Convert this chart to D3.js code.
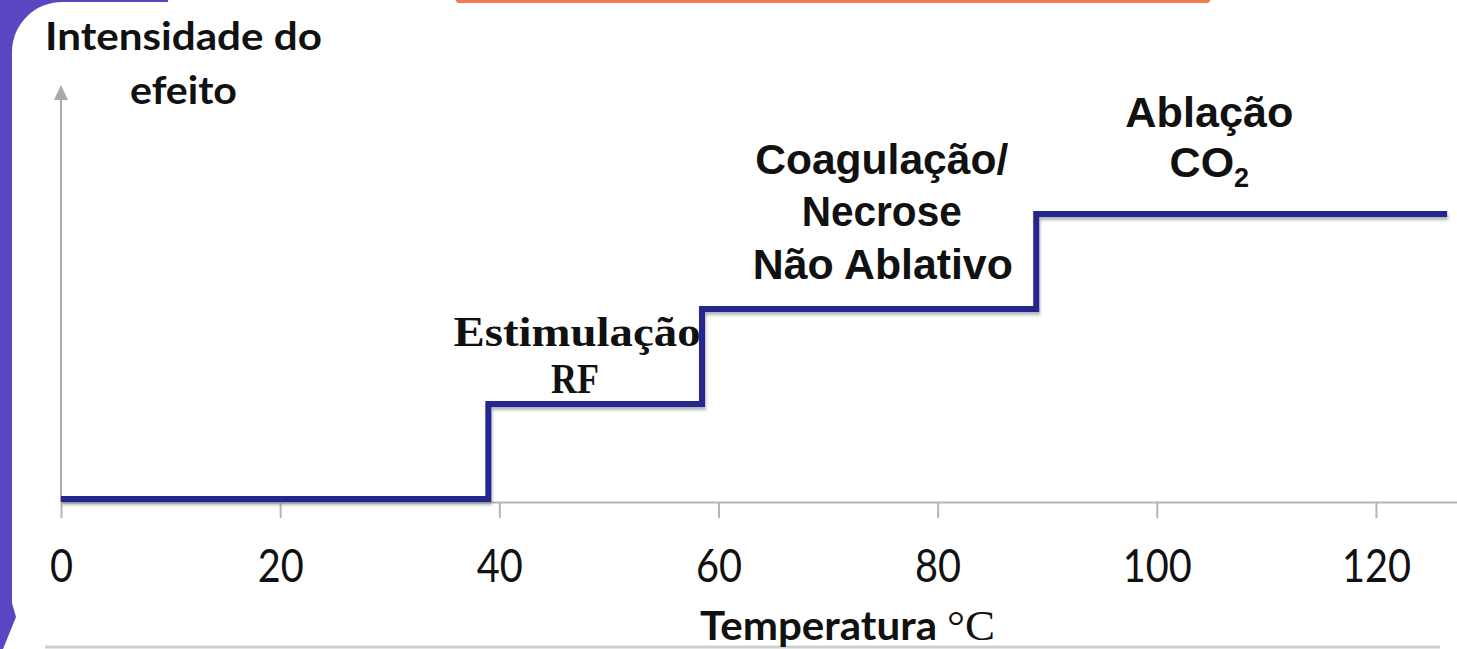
<!DOCTYPE html>
<html>
<head>
<meta charset="utf-8">
<script src="https://cdn.jsdelivr.net/npm/d3@7"></script>
<style>
  html, body { margin: 0; padding: 0; background: #fff; overflow: hidden; }
  svg { display: block; }
</style>
</head>
<body>
<div id="chart"></div>
<script>
// temperature (°C) where each phase starts, and the effect level reached
const stepTemps = [0, 39, 58.5, 89, 126.5];
const stepLevels = [0, 1, 2, 3, 3];
const xTicks = [0, 20, 40, 60, 80, 100, 120];
const phaseNames = [
  ["Estimulação", "RF"],
  ["Coagulação/", "Necrose", "Não Ablativo"],
  ["Ablação", "CO"]
];
const yLabelLines = ["Intensidade do", "efeito"];
const xLabel = ["Temperatura", "°C"];

const W = 1457, H = 649;
const sans = "Lato, 'Open Sans', sans-serif";
const arial = "'Liberation Sans', Arial, sans-serif";
const serif = "'Liberation Serif', 'DejaVu Serif', serif";

const svg = d3.select("#chart").append("svg")
  .attr("width", W)
  .attr("height", H);

// page frame: purple edge, orange tab, bottom card edge
svg.append("path")
  .attr("d", "M0,0 H168 V2 H62 A50,50 0 0 0 12,52 V603 L16,617 L3,649 H0 Z")
  .attr("fill", "#5a45c2");
svg.append("rect")
  .attr("x", 456).attr("y", -4)
  .attr("width", 754).attr("height", 7)
  .attr("rx", 3)
  .attr("fill", "#f27b52");
svg.append("line")
  .attr("x1", 45).attr("x2", 1440)
  .attr("y1", 647).attr("y2", 647)
  .attr("stroke", "#cfcfcf")
  .attr("stroke-width", 3);

const defs = svg.append("defs");
defs.append("filter")
  .attr("id", "shadow")
  .attr("x", "-5%").attr("y", "-20%")
  .attr("width", "110%").attr("height", "140%")
  .append("feDropShadow")
  .attr("dx", 1).attr("dy", 3)
  .attr("stdDeviation", 1.5)
  .attr("flood-color", "#777")
  .attr("flood-opacity", 0.55);

const x = d3.scaleLinear()
  .domain([0, 127.4])
  .range([61, W]);

const y = d3.scaleLinear()
  .domain([0, 3])
  .range([499, 214]);

const axisY = 502;

// x axis
const xAxis = d3.axisBottom(x)
  .tickValues(xTicks)
  .tickSize(16)
  .tickSizeOuter(0);

const gx = svg.append("g")
  .attr("transform", `translate(0,${axisY})`)
  .call(xAxis);

gx.select(".domain")
  .attr("stroke", "#b5b5b5")
  .attr("stroke-width", 2);
gx.selectAll(".tick line")
  .attr("stroke", "#b5b5b5")
  .attr("stroke-width", 2);
gx.selectAll(".tick text")
  .attr("y", 80)
  .attr("dy", 0)
  .attr("fill", "#111")
  .attr("font-family", sans)
  .attr("font-size", 46)
  .attr("textLength", d => String(d).length * 23)
  .attr("lengthAdjust", "spacingAndGlyphs");

// y axis with arrow head
svg.append("line")
  .attr("x1", x(0)).attr("x2", x(0))
  .attr("y1", axisY).attr("y2", 96)
  .attr("stroke", "#a9a9a9")
  .attr("stroke-width", 2);
svg.append("path")
  .attr("d", `M${x(0)},85 L${x(0) - 7},100 L${x(0) + 7},100 Z`)
  .attr("fill", "#a9a9a9");

// step line
const stepData = stepTemps.map((t, i) => ({ t, v: stepLevels[i] }));
const step = d3.line()
  .x(d => x(d.t))
  .y(d => y(d.v))
  .curve(d3.curveStepAfter);

svg.append("path")
  .datum(stepData)
  .attr("d", step)
  .attr("fill", "none")
  .attr("stroke", "#26268f")
  .attr("stroke-width", 6)
  .attr("stroke-linejoin", "miter")
  .attr("filter", "url(#shadow)");

function label(px, py, text, font, size, len, weight, anchor) {
  return svg.append("text")
    .attr("x", px)
    .attr("y", py)
    .attr("text-anchor", anchor || "middle")
    .attr("font-family", font)
    .attr("font-size", size)
    .attr("font-weight", weight || "bold")
    .attr("fill", "#111")
    .attr("textLength", len)
    .attr("lengthAdjust", "spacingAndGlyphs")
    .text(text);
}

// axis titles
label(183.5, 50, yLabelLines[0], sans, 39, 277);
label(183.5, 104, yLabelLines[1], sans, 39, 107);

label(700, 640, xLabel[0], sans, 40, 237, "bold", "start");
label(947, 640, xLabel[1], serif, 42, 48, "normal", "start");

// phase labels
label(x(47.1), y(1) - 58, phaseNames[0][0], serif, 42, 247);
label(x(46.9), y(1) - 11, phaseNames[0][1], serif, 42, 48);

label(x(74.9), y(2) - 135, phaseNames[1][0], arial, 42, 253);
label(x(74.9), y(2) - 83, phaseNames[1][1], arial, 42, 160);
label(x(75.0), y(2) - 30, phaseNames[1][2], arial, 42, 260);

label(x(104.8), y(3) - 87, phaseNames[2][0], arial, 43, 168);
const co = svg.append("text")
  .attr("x", x(104.8))
  .attr("y", y(3) - 37)
  .attr("text-anchor", "middle")
  .attr("font-family", arial)
  .attr("font-weight", "bold")
  .attr("fill", "#111");
co.append("tspan")
  .attr("font-size", 43)
  .text(phaseNames[2][1]);
co.append("tspan")
  .attr("font-size", 27)
  .attr("dy", 10)
  .text("2");
</script>
</body>
</html>
